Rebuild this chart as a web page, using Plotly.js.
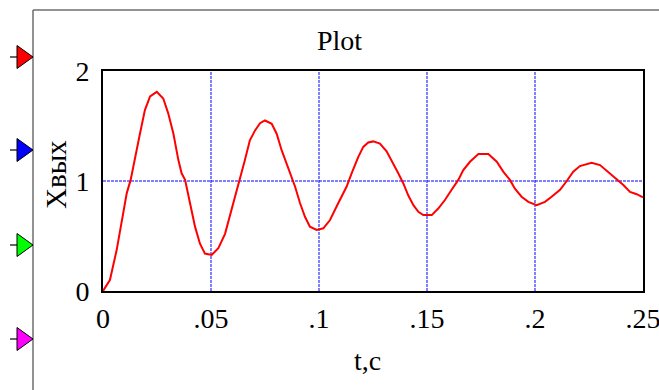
<!DOCTYPE html>
<html>
<head>
<meta charset="utf-8">
<script src="https://cdn.plot.ly/plotly-3.0.1.min.js"></script>
<style>html,body{margin:0;padding:0;background:#fff;}#chart{width:659px;height:390px;}</style>
</head>
<body>
<div id="chart"></div>
<script>
// ---- data ----
const tValues = [0, 0.0032, 0.0063, 0.0087, 0.011, 0.0128, 0.0148, 0.0171, 0.0194, 0.0218, 0.0249, 0.0279, 0.0302, 0.0326, 0.0349, 0.0364, 0.038, 0.0403, 0.0426, 0.0449, 0.0472, 0.0503, 0.0534, 0.0565, 0.0592, 0.0611, 0.0634, 0.0657, 0.068, 0.0704, 0.0727, 0.075, 0.0781, 0.0804, 0.0827, 0.085, 0.0866, 0.0889, 0.0912, 0.0935, 0.0958, 0.0989, 0.102, 0.1051, 0.1082, 0.1105, 0.1128, 0.1151, 0.1182, 0.1205, 0.1228, 0.1251, 0.1282, 0.1313, 0.1344, 0.1367, 0.139, 0.1413, 0.1437, 0.146, 0.1483, 0.1522, 0.1552, 0.1583, 0.1614, 0.1645, 0.1668, 0.1699, 0.1738, 0.1784, 0.1823, 0.1853, 0.1884, 0.1907, 0.1938, 0.1969, 0.2008, 0.2046, 0.2077, 0.2116, 0.2147, 0.2177, 0.2208, 0.2262, 0.2301, 0.2339, 0.2378, 0.2409, 0.244, 0.2471, 0.25];
const xOut = [0, 0.1, 0.37, 0.645, 0.89, 1.01, 1.22, 1.43, 1.645, 1.77, 1.81, 1.75, 1.615, 1.43, 1.19, 1.07, 1.01, 0.80, 0.585, 0.43, 0.34, 0.327, 0.39, 0.52, 0.71, 0.857, 1.01, 1.19, 1.37, 1.46, 1.525, 1.55, 1.52, 1.43, 1.28, 1.16, 1.07, 0.95, 0.80, 0.675, 0.585, 0.555, 0.57, 0.645, 0.77, 0.857, 0.95, 1.07, 1.22, 1.31, 1.35, 1.36, 1.34, 1.27, 1.16, 1.07, 0.98, 0.87, 0.78, 0.72, 0.69, 0.69, 0.75, 0.827, 0.92, 1.01, 1.10, 1.175, 1.245, 1.245, 1.175, 1.085, 1.01, 0.93, 0.857, 0.81, 0.78, 0.81, 0.857, 0.92, 1.0, 1.085, 1.136, 1.166, 1.145, 1.085, 1.015, 0.964, 0.90, 0.88, 0.852];
const xTickVals = [0, 0.05, 0.1, 0.15, 0.2, 0.25];
const xTickText = ["0", ".05", ".1", ".15", ".2", ".25"];
const yTickVals = [0, 1, 2];
const yTickText = ["0", "1", "2"];
const xGridVals = [0.05, 0.1, 0.15, 0.2];
const yGridVals = [1];
const titleText = "Plot";
const xTitle = "t,c";
const yTitle = "Xвых";
const markerColors = ["#ff0000", "#0000ff", "#00ff00", "#ff00ff"];

// ---- layout helpers (pixel -> paper) ----
const W = 659, H = 390;
const M = {l: 103, r: 16, t: 71, b: 99};
const PW = W - M.l - M.r, PH = H - M.t - M.b;
const px = p => (p - M.l) / PW;
const py = p => (H - M.b - p) / PH;

const FONT = "Liberation Serif";
const GRID = {color: "#0000ff", width: 1, dash: "3px,1px"};

const shapes = [];
// grid lines (drawn as shapes, below the trace)
xGridVals.forEach(v => shapes.push({type: "line", layer: "below", xref: "x", yref: "paper", x0: v, x1: v, y0: 0, y1: 1, line: GRID}));
yGridVals.forEach(v => shapes.push({type: "line", layer: "below", xref: "paper", yref: "y", x0: 0, x1: 1, y0: v, y1: v, line: GRID}));
// outer frame lines
shapes.push({type: "line", xref: "paper", yref: "paper", x0: px(33), x1: px(33), y0: py(10), y1: py(392), line: {color: "#6e6e6e", width: 1.5}});
shapes.push({type: "line", xref: "paper", yref: "paper", x0: px(33), x1: px(661), y0: py(10), y1: py(10), line: {color: "#6e6e6e", width: 1.5}});
// trace marker triangles
const triY = [57, 150, 245, 339];
triY.forEach((cy, i) => {
  shapes.push({type: "line", xref: "paper", yref: "paper", x0: px(10), x1: px(18), y0: py(cy), y1: py(cy), line: {color: "#000", width: 1.2}});
  const path = "M " + px(17) + "," + py(cy - 11.5) + " L " + px(33) + "," + py(cy) + " L " + px(17) + "," + py(cy + 11.5) + " Z";
  shapes.push({type: "path", xref: "paper", yref: "paper", path: path, fillcolor: markerColors[i], line: {color: "#000", width: 1}});
});

const annotations = [
  {text: titleText, xref: "paper", yref: "paper", x: px(339), y: py(41), xanchor: "center", yanchor: "middle", showarrow: false, font: {family: FONT, size: 28, color: "#000"}},
  {text: xTitle, xref: "paper", yref: "paper", x: px(367), y: py(360), xanchor: "center", yanchor: "middle", showarrow: false, font: {family: FONT, size: 28, color: "#000"}},
  {text: yTitle, xref: "paper", yref: "paper", x: px(56), y: py(175), xanchor: "center", yanchor: "middle", textangle: -90, showarrow: false, font: {family: FONT, size: 29, color: "#000"}}
];

const trace = {
  x: tValues, y: xOut, type: "scatter", mode: "lines",
  line: {color: "#ff0000", width: 2}, hoverinfo: "skip"
};

const layout = {
  width: W, height: H,
  margin: M,
  paper_bgcolor: "#fff", plot_bgcolor: "#fff",
  showlegend: false,
  font: {family: FONT},
  xaxis: {
    range: [0, 0.25], tickvals: xTickVals, ticktext: xTickText,
    showgrid: false,
    showline: true, linecolor: "#000", linewidth: 2, mirror: true,
    zeroline: false, ticks: "", ticklabelstandoff: 1, ticklabeloverflow: "allow",
    tickfont: {family: FONT, size: 28, color: "#000"}
  },
  yaxis: {
    range: [0, 2], tickvals: yTickVals, ticktext: yTickText,
    showgrid: false,
    showline: true, linecolor: "#000", linewidth: 2, mirror: true,
    zeroline: false, ticks: "", ticklabelstandoff: 6, ticklabeloverflow: "allow",
    tickfont: {family: FONT, size: 28, color: "#000"}
  },
  shapes: shapes,
  annotations: annotations
};

Plotly.newPlot("chart", [trace], layout, {displayModeBar: false, staticPlot: true});
</script>
</body>
</html>
